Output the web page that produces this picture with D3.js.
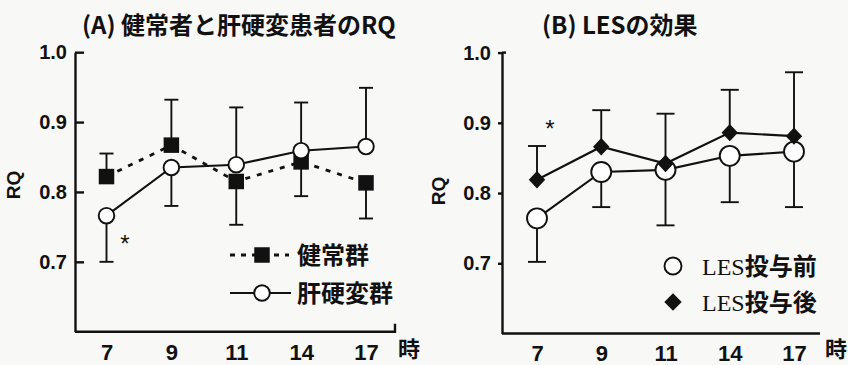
<!DOCTYPE html>
<html><head><meta charset="utf-8">
<script src="https://cdn.jsdelivr.net/npm/d3@7"></script>
<style>
body{margin:0;background:#f8f8f7}
svg{display:block}
text{fill:#111}
</style></head><body>
<svg id="c" width="848" height="365"></svg>
<script>
// ---------- data ----------
const hours = ["7", "9", "11", "14", "17"];
const yTicks = [0.7, 0.8, 0.9, 1.0];

// Panel A
const titleA = "(A) 健常者と肝硬変患者のRQ";
const healthyName = "健常群";
const healthyMean = [0.822, 0.867, 0.815, 0.843, 0.813];
const healthyErr  = [0.033, 0.065, 0.062, 0.049, 0.051];
const healthyDir  = [1, 1, -1, -1, -1];      // +1 = bar drawn upward, -1 = downward
const cirrhosisName = "肝硬変群";
const cirrhosisMean = [0.766, 0.835, 0.839, 0.859, 0.865];
const cirrhosisErr  = [0.066, 0.055, 0.082, 0.069, 0.084];
const cirrhosisDir  = [-1, -1, 1, 1, 1];

// Panel B
const titleB = "(B) LESの効果";
const beforeName = "LES投与前";
const beforeMean = [0.764, 0.830, 0.833, 0.853, 0.859];
const beforeErr  = [0.062, 0.050, 0.079, 0.066, 0.079];
const beforeDir  = [-1, -1, -1, -1, -1];
const afterName = "LES投与後";
const afterMean = [0.819, 0.866, 0.842, 0.886, 0.881];
const afterErr  = [0.048, 0.052, 0.071, 0.061, 0.091];
const afterDir  = [1, 1, 1, 1, 1];

const yLabel = "RQ";
const xUnit = "時";
const star = "*";

// ---------- drawing ----------
const svg = d3.select("#c");
const INK = "#111";
const SANS = "'Liberation Sans', Arial, 'Noto Sans CJK JP', sans-serif";
const CJK = "'Noto Sans CJK JP', 'Liberation Sans', sans-serif";

function series(mean, err, dir) {
  return hours.map((h, i) => ({h, v: mean[i], e: err[i], d: dir[i]}));
}

function panel(cfg) {
  const g = svg.append("g");
  const x = d3.scalePoint().domain(hours).range([cfg.px0, cfg.px1]);
  const y = d3.scaleLinear().domain([0.6, 1.0]).range([cfg.yBottom, cfg.yTop]);

  // y axis
  const ya = g.append("g").attr("transform", `translate(${cfg.axisX},0)`)
    .call(d3.axisLeft(y).tickValues(yTicks).tickFormat(d3.format(".1f"))
      .tickSizeInner(cfg.tickIn).tickSizeOuter(0).tickPadding(cfg.tickPad));
  ya.selectAll("path,line").attr("stroke", INK).attr("stroke-width", 2.4);
  ya.selectAll("text").attr("font-family", SANS).attr("font-weight", "bold")
    .attr("font-size", 20).style("fill", INK);
  // top hook
  g.append("line").attr("x1", cfg.axisX).attr("x2", cfg.axisX + cfg.topHook)
    .attr("y1", y(1.0)).attr("y2", y(1.0)).attr("stroke", INK).attr("stroke-width", 2.4);

  // x axis
  g.append("path")
    .attr("d", `M${cfg.axisX},${y(0.6)}H${cfg.axisRight}` + (cfg.rightHook ? `V${y(0.6) - cfg.rightHook}` : ""))
    .attr("fill", "none").attr("stroke", INK).attr("stroke-width", 2.4);
  const xa = g.append("g").attr("transform", `translate(0,${y(0.6)})`)
    .call(d3.axisBottom(x).tickSize(0).tickPadding(cfg.xPad));
  xa.select(".domain").remove();
  xa.selectAll("text").attr("font-family", SANS).attr("font-weight", "bold")
    .attr("font-size", 22).style("fill", INK);

  g.append("text").attr("x", cfg.unitX).attr("y", cfg.unitY)
    .attr("font-family", CJK).attr("font-weight", "bold").attr("font-size", 22)
    .attr("text-anchor", "middle").text(xUnit);

  // y label
  g.append("text").attr("transform", `translate(${cfg.ylabX},${cfg.ylabY}) rotate(-90)`)
    .attr("font-family", SANS).attr("font-weight", "bold").attr("font-size", 19)
    .attr("text-anchor", "middle").text(yLabel);

  // title
  g.append("text").attr("x", cfg.titleX).attr("y", cfg.titleY)
    .attr("font-family", CJK).attr("font-weight", "bold").attr("font-size", 24)
    .text(cfg.title);

  // asterisk
  g.append("text").attr("x", cfg.starX).attr("y", cfg.starY)
    .attr("font-family", SANS).attr("font-size", 24).attr("text-anchor", "middle").text(star);

  return {g, x, y};
}

function errorBars(P, data, cap) {
  const eb = P.g.append("g").attr("stroke", INK).attr("stroke-width", 1.9);
  data.forEach(d => {
    const cx = P.x(d.h), y0 = P.y(d.v), y1 = P.y(d.v + d.d * d.e);
    eb.append("line").attr("x1", cx).attr("x2", cx).attr("y1", y0).attr("y2", y1);
    eb.append("line").attr("x1", cx - cap / 2).attr("x2", cx + cap / 2).attr("y1", y1).attr("y2", y1);
  });
}

function seriesLine(P, data, dash) {
  P.g.append("path").datum(data)
    .attr("d", d3.line().x(d => P.x(d.h)).y(d => P.y(d.v)))
    .attr("fill", "none").attr("stroke", INK).attr("stroke-width", dash ? 2.8 : 2.1)
    .attr("stroke-dasharray", dash || null);
}

function squares(g, pts, s) {
  g.selectAll(null).data(pts).enter().append("rect")
    .attr("x", d => d[0] - s / 2).attr("y", d => d[1] - s / 2)
    .attr("width", s).attr("height", s).attr("fill", INK);
}
function circles(g, pts, r) {
  g.selectAll(null).data(pts).enter().append("circle")
    .attr("cx", d => d[0]).attr("cy", d => d[1]).attr("r", r)
    .attr("fill", "#fff").attr("stroke", INK).attr("stroke-width", 1.9);
}
function diamonds(g, pts, w, h) {
  g.selectAll(null).data(pts).enter().append("path")
    .attr("d", d => `M${d[0]},${d[1] - h}L${d[0] + w},${d[1]}L${d[0]},${d[1] + h}L${d[0] - w},${d[1]}Z`)
    .attr("fill", INK);
}

// ----- Panel A -----
const A = panel({
  px0: 106.5, px1: 366, yBottom: 331.7, yTop: 52.2,
  axisX: 75, axisRight: 395, tickIn: -9, tickPad: 8, topHook: 0, rightHook: 8,
  xPad: 13, unitX: 409, unitY: 357, ylabX: 20, ylabY: 185,
  titleX: 82, titleY: 34, title: titleA, starX: 125, starY: 252
});
const hA = series(healthyMean, healthyErr, healthyDir);
const cA = series(cirrhosisMean, cirrhosisErr, cirrhosisDir);
errorBars(A, hA, 14);
errorBars(A, cA, 14);
seriesLine(A, hA, "5,7");
seriesLine(A, cA, null);
squares(A.g, hA.map(d => [A.x(d.h), A.y(d.v)]), 15.5);
circles(A.g, cA.map(d => [A.x(d.h), A.y(d.v)]), 7.8);

// legend A
const LA = A.g.append("g");
LA.append("line").attr("x1", 230).attr("x2", 289).attr("y1", 255).attr("y2", 255)
  .attr("stroke", INK).attr("stroke-width", 2.8).attr("stroke-dasharray", "5,6");
squares(LA, [[262, 255]], 15.5);
LA.append("text").attr("x", 297).attr("y", 255).attr("dy", "0.36em")
  .attr("font-family", CJK).attr("font-weight", "bold").attr("font-size", 24).text(healthyName);
LA.append("line").attr("x1", 230).attr("x2", 291).attr("y1", 293).attr("y2", 293)
  .attr("stroke", INK).attr("stroke-width", 2.1);
circles(LA, [[262, 293]], 7.8);
LA.append("text").attr("x", 297).attr("y", 293).attr("dy", "0.36em")
  .attr("font-family", CJK).attr("font-weight", "bold").attr("font-size", 24).text(cirrhosisName);

// ----- Panel B -----
const B = panel({
  px0: 537, px1: 794, yBottom: 333.5, yTop: 52.6,
  axisX: 502, axisRight: 820, tickIn: 4, tickPad: 7, topHook: 4, rightHook: 0,
  xPad: 12, unitX: 836, unitY: 357, ylabX: 445, ylabY: 191,
  titleX: 542, titleY: 34, title: titleB, starX: 550, starY: 137
});
const bB = series(beforeMean, beforeErr, beforeDir);
const aB = series(afterMean, afterErr, afterDir);
errorBars(B, bB, 18);
errorBars(B, aB, 18);
seriesLine(B, bB, null);
seriesLine(B, aB, null);
circles(B.g, bB.map(d => [B.x(d.h), B.y(d.v)]), 10);
diamonds(B.g, aB.map(d => [B.x(d.h), B.y(d.v)]), 8.2, 8.7);

// legend B
const LB = B.g.append("g");
circles(LB, [[673, 266]], 8.5);
diamonds(LB, [[673, 302]], 8.7, 8.7);
[[beforeName, 266], [afterName, 302]].forEach(([t, yy]) => {
  const tx = LB.append("text").attr("x", 702).attr("y", yy).attr("dy", "0.36em").attr("font-size", 24);
  tx.append("tspan").attr("font-family", "'Liberation Serif', 'Times New Roman', serif").text(t.slice(0, 3));
  tx.append("tspan").attr("font-family", CJK).attr("font-weight", "bold").text(t.slice(3));
});
</script>
</body></html>
